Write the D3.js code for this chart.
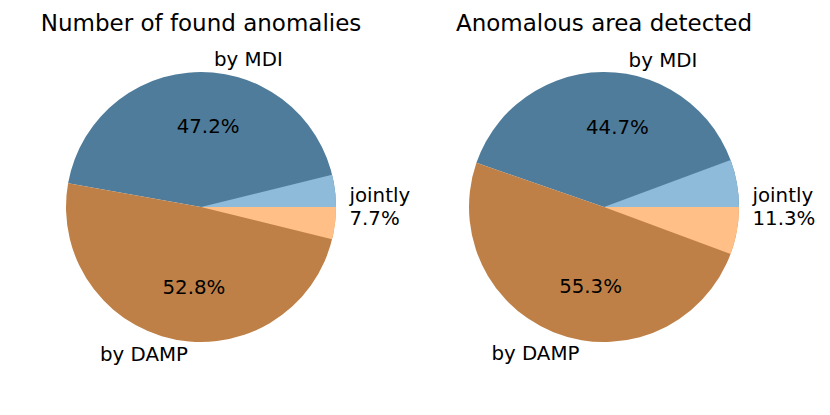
<!DOCTYPE html>
<html>
<head>
<meta charset="utf-8">
<script src="https://cdn.jsdelivr.net/npm/d3@7"></script>
<style>
  body { margin: 0; background: #fff; }
  text { font-family: "DejaVu Sans", sans-serif; fill: #000; }
</style>
</head>
<body>
<div id="chart"></div>
<script>
// chart data
const titles = ["Number of found anomalies", "Anomalous area detected"];
const sliceNames = ["by MDI", "by DAMP"];
const mdiShare = [47.2, 44.7];
const dampShare = [52.8, 55.3];
const jointShare = [7.7, 11.3];
const jointLabel = "jointly";

const colors = {
  mdi: "#4f7c9b",
  damp: "#bf8047",
  jointMdi: "#8ebbda",
  jointDamp: "#ffbf86"
};

const width = 830, height = 415;
const radius = 135;
const centers = [{ x: 201, y: 207 }, { x: 604, y: 207 }];
const labelSize = "19.8px";

const svg = d3.select("#chart")
  .append("svg")
    .attr("width", width)
    .attr("height", height);

const arc = d3.arc().innerRadius(0).outerRadius(radius);

// matplotlib style: start at 3 o'clock, go counterclockwise
const pie = d3.pie()
  .sort(null)
  .value(d => d)
  .startAngle(Math.PI / 2)
  .endAngle(Math.PI / 2 - 2 * Math.PI);

// place a point at a given fraction of the radius along the mid angle
function along(d, f) {
  const a = (d.startAngle + d.endAngle) / 2;
  return [Math.sin(a) * radius * f, -Math.cos(a) * radius * f];
}

titles.forEach(function(title, i) {
  const g = svg.append("g")
    .attr("transform", `translate(${centers[i].x},${centers[i].y})`);

  g.append("text")
    .attr("x", 0)
    .attr("y", -176)
    .attr("text-anchor", "middle")
    .style("font-size", "23px")
    .text(title);

  const main = pie([mdiShare[i], dampShare[i]]);

  g.selectAll("path.main")
    .data(main)
    .enter().append("path")
    .attr("class", "main")
    .attr("d", arc)
    .attr("fill", (d, j) => j === 0 ? colors.mdi : colors.damp);

  // jointly part split around 0 degrees
  const half = jointShare[i] / 2;
  const joint = pie([half, 100 - jointShare[i], half]);

  g.append("path")
    .attr("d", arc(joint[0]))
    .attr("fill", colors.jointMdi);
  g.append("path")
    .attr("d", arc(joint[2]))
    .attr("fill", colors.jointDamp);

  // outer labels
  main.forEach(function(d, j) {
    const p = along(d, 1.1);
    g.append("text")
      .attr("x", p[0])
      .attr("y", p[1])
      .attr("text-anchor", p[0] > 0 ? "start" : "end")
      .attr("dominant-baseline", "central")
      .style("font-size", labelSize)
      .text(sliceNames[j]);

    const q = along(d, 0.6);
    g.append("text")
      .attr("x", q[0])
      .attr("y", q[1])
      .attr("text-anchor", "middle")
      .attr("dominant-baseline", "central")
      .style("font-size", labelSize)
      .text(d.value.toFixed(1) + "%");
  });

  // jointly label at 0 degrees
  const jl = g.append("text")
    .attr("x", radius * 1.1)
    .attr("y", 0)
    .style("font-size", labelSize);
  jl.append("tspan")
    .attr("x", radius * 1.1)
    .attr("y", -11.5)
    .attr("dominant-baseline", "central")
    .text(jointLabel);
  jl.append("tspan")
    .attr("x", radius * 1.1)
    .attr("y", 11.5)
    .attr("dominant-baseline", "central")
    .text(jointShare[i].toFixed(1) + "%");
});
</script>
</body>
</html>
